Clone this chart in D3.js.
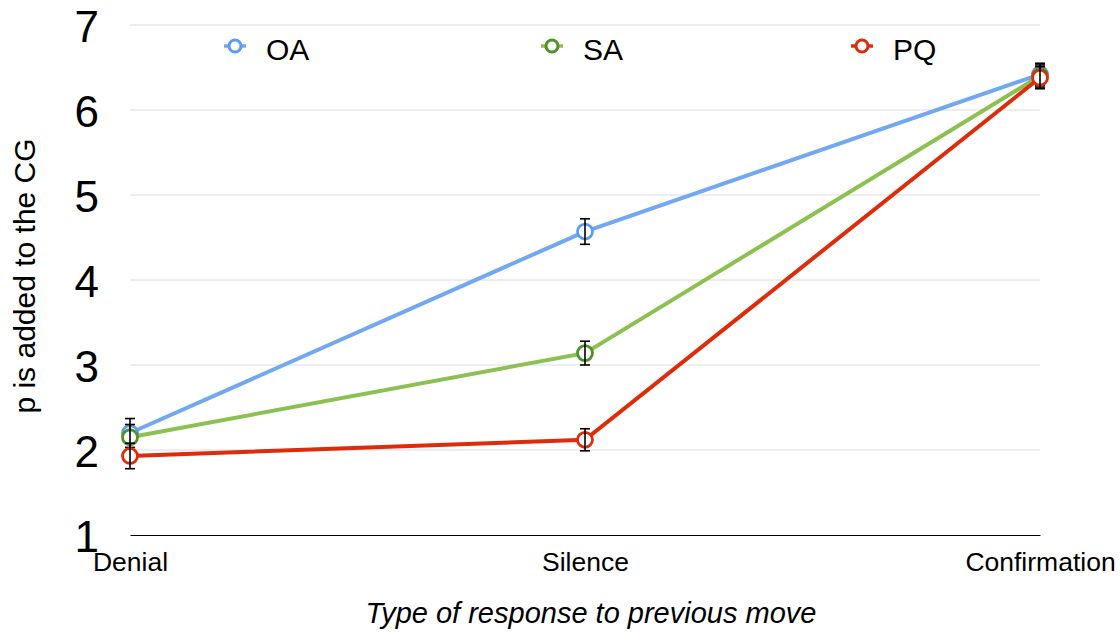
<!DOCTYPE html>
<html>
<head>
<meta charset="utf-8">
<script src="https://cdn.jsdelivr.net/npm/d3@7"></script>
<style>
  body { margin: 0; background: #fff; }
  svg { font-family: "Liberation Sans", Arial, sans-serif; }
</style>
</head>
<body>
<script>
// Data.
const categories = ["Denial", "Silence", "Confirmation"];
const seriesNames = ["OA", "SA", "PQ"];
const oaValues = [2.2, 4.57, 6.42];
const saValues = [2.15, 3.14, 6.4];
const pqValues = [1.93, 2.12, 6.38];
const oaErrors = [0.17, 0.15, 0.13];
const saErrors = [0.15, 0.14, 0.13];
const pqErrors = [0.15, 0.13, 0.13];
const yTicks = [1, 2, 3, 4, 5, 6, 7];

const series = [
  { name: seriesNames[0], values: oaValues, errors: oaErrors, line: "#72a8f2", mark: "#5d9cf0" },
  { name: seriesNames[1], values: saValues, errors: saErrors, line: "#8cc152", mark: "#4f9227" },
  { name: seriesNames[2], values: pqValues, errors: pqErrors, line: "#de2b0c", mark: "#de2b0c" },
];

const width = 1120;
const height = 632;
const margin = { top: 25, right: 80, bottom: 97, left: 130 };

const svg = d3.select("body").append("svg")
  .attr("width", width)
  .attr("height", height);

const x = d3.scalePoint()
  .domain(categories)
  .range([margin.left, width - margin.right]);

const y = d3.scaleLinear()
  .domain([1, 7])
  .range([height - margin.bottom, margin.top]);

// Gridlines.
svg.append("g")
  .selectAll("line")
  .data(yTicks.filter((d) => d > 1))
  .join("line")
  .attr("x1", margin.left)
  .attr("x2", width - margin.right)
  .attr("y1", (d) => y(d))
  .attr("y2", (d) => y(d))
  .attr("stroke", "#dcdcdc")
  .attr("stroke-width", 1);

// Y axis labels.
const yAxis = svg.append("g")
  .attr("transform", `translate(${margin.left},2)`)
  .call(d3.axisLeft(y).tickValues(yTicks).tickSize(0).tickPadding(31).tickFormat(d3.format("d")));
yAxis.select(".domain").remove();
yAxis.selectAll("text")
  .attr("font-size", 44)
  .attr("font-family", "Liberation Sans, Arial, sans-serif")
  .attr("fill", "#000");

// X axis.
const xAxis = svg.append("g")
  .attr("transform", `translate(0,${y(1)})`)
  .call(d3.axisBottom(x).tickSize(0).tickPadding(17));
xAxis.select(".domain").attr("stroke", "#000").attr("stroke-width", 1.2);
xAxis.selectAll("text")
  .attr("font-size", 26.5)
  .attr("font-family", "Liberation Sans, Arial, sans-serif")
  .attr("fill", "#000");

// Axis titles.
svg.append("text")
  .attr("transform", `translate(35,276) rotate(-90)`)
  .attr("text-anchor", "middle")
  .attr("font-size", 30)
  .text("p is added to the CG");

svg.append("text")
  .attr("x", 591)
  .attr("y", 623)
  .attr("text-anchor", "middle")
  .attr("font-size", 29)
  .attr("font-style", "italic")
  .text("Type of response to previous move");

// Lines.
const line = d3.line()
  .x((d, i) => x(categories[i]))
  .y((d) => y(d));

svg.append("g")
  .selectAll("path")
  .data(series)
  .join("path")
  .attr("fill", "none")
  .attr("stroke", (s) => s.line)
  .attr("stroke-width", 4)
  .attr("d", (s) => line(s.values));

// Markers and error bars.
series.forEach((s) => {
  const g = svg.append("g");
  g.selectAll("circle")
    .data(s.values)
    .join("circle")
    .attr("cx", (d, i) => x(categories[i]))
    .attr("cy", (d) => y(d))
    .attr("r", 7.5)
    .attr("fill", "#fff")
    .attr("stroke", s.mark)
    .attr("stroke-width", 2.8);

  const eb = g.selectAll(".err")
    .data(s.values.map((v, i) => ({ v, e: s.errors[i], c: categories[i] })))
    .join("g")
    .attr("class", "err")
    .attr("stroke", "#000")
    .attr("stroke-width", 1.6);
  eb.append("line")
    .attr("x1", (d) => x(d.c)).attr("x2", (d) => x(d.c))
    .attr("y1", (d) => y(d.v + d.e)).attr("y2", (d) => y(d.v - d.e));
  eb.append("line")
    .attr("x1", (d) => x(d.c) - 5).attr("x2", (d) => x(d.c) + 5)
    .attr("y1", (d) => y(d.v + d.e)).attr("y2", (d) => y(d.v + d.e));
  eb.append("line")
    .attr("x1", (d) => x(d.c) - 5).attr("x2", (d) => x(d.c) + 5)
    .attr("y1", (d) => y(d.v - d.e)).attr("y2", (d) => y(d.v - d.e));
});

// Legend.
const legendX = [235, 552, 862];
const legend = svg.append("g")
  .selectAll("g")
  .data(series)
  .join("g")
  .attr("transform", (s, i) => `translate(${legendX[i]},46)`);
legend.append("line")
  .attr("x1", -11).attr("x2", 11)
  .attr("stroke", (s) => s.line)
  .attr("stroke-width", 3.5);
legend.append("circle")
  .attr("r", 6)
  .attr("fill", "#fff")
  .attr("stroke", (s) => s.mark)
  .attr("stroke-width", 3);
legend.append("text")
  .attr("x", 31)
  .attr("y", 14)
  .attr("font-size", 30)
  .text((s) => s.name);
</script>
</body>
</html>
